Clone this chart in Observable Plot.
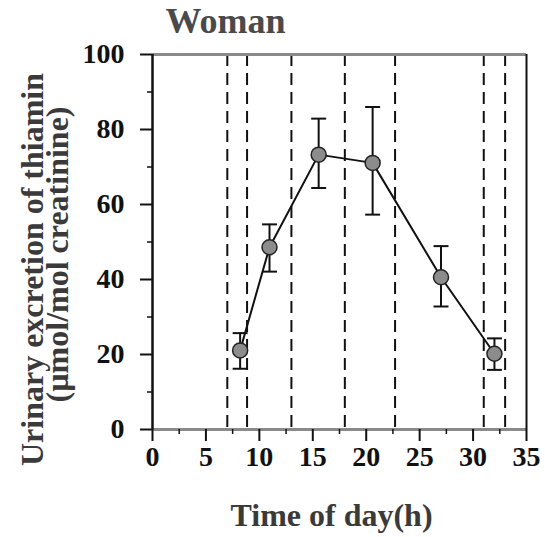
<!DOCTYPE html>
<html>
<head>
<meta charset="utf-8">
<script src="https://cdn.jsdelivr.net/npm/d3@7"></script>
<script src="https://cdn.jsdelivr.net/npm/@observablehq/plot@0.6"></script>
<style>
  html, body { margin: 0; padding: 0; background: #fff; }
</style>
</head>
<body>
<div id="chart"></div>
<script>
// Data
const times = [8.2, 10.95, 15.55, 20.6, 27.0, 32.0];
const means = [21.1, 48.6, 73.3, 71.1, 40.6, 20.2];
const lows  = [16.2, 42.1, 64.4, 57.3, 32.8, 15.9];
const highs = [25.7, 54.7, 82.9, 86.0, 48.9, 24.3];
const dashTimes = [7, 8.85, 13, 18, 22.7, 31, 33];
const xTicks = [0, 5, 10, 15, 20, 25, 30, 35];
const xMinorTicks = [2.5, 7.5, 12.5, 17.5, 22.5, 27.5, 32.5];
const yTicks = [0, 20, 40, 60, 80, 100];
const yMinorTicks = [10, 30, 50, 70, 90];
const titleText = "Woman";
const xLabel = "Time of day(h)";
const yLabel1 = "Urinary excretion of thiamin";
const yLabel2 = "(µmol/mol creatinine)";

const data = times.map((t, i) => ({t, m: means[i], lo: lows[i], hi: highs[i]}));
const capHalf = 0.7;
const font = "'Liberation Serif', 'Times New Roman', serif";

const chart = Plot.plot({
  width: 545,
  height: 537,
  marginLeft: 152,
  marginRight: 19,
  marginTop: 54,
  marginBottom: 108,
  style: {fontFamily: font, fontWeight: "bold", background: "#fff"},
  x: {domain: [0, 35], axis: null},
  y: {domain: [0, 100], axis: null},
  marks: [
    // dashed sampling lines
    Plot.ruleX(dashTimes, {stroke: "#111", strokeWidth: 2, strokeDasharray: "12,7"}),
    // frame
    Plot.ruleY([0], {stroke: "#8a8a8a", strokeWidth: 3}),
    Plot.ruleY([100], {stroke: "#8a8a8a", strokeWidth: 3}),
    Plot.ruleX([0], {stroke: "#111", strokeWidth: 2.5}),
    Plot.ruleX([35], {stroke: "#111", strokeWidth: 2}),
    // axes
    Plot.axisY(yTicks, {anchor: "left", tickSize: 12, tickPadding: 16, fontSize: 28, fontWeight: "bold", color: "#111", strokeWidth: 2, label: null}),
    Plot.axisY(yMinorTicks, {anchor: "left", tickSize: 5, tickFormat: () => "", color: "#111", strokeWidth: 1.5, label: null}),
    Plot.axisX(xTicks, {anchor: "bottom", tickSize: 12, tickPadding: 5, fontSize: 28, fontWeight: "bold", color: "#111", strokeWidth: 2, label: null}),
    Plot.axisX(xMinorTicks, {anchor: "bottom", tickSize: 5, tickFormat: () => "", color: "#111", strokeWidth: 1.5, label: null}),
    // error bars
    Plot.ruleX(data, {x: "t", y1: "lo", y2: "hi", stroke: "#111", strokeWidth: 2}),
    Plot.link(data, {x1: d => d.t - capHalf, x2: d => d.t + capHalf, y1: "hi", y2: "hi", stroke: "#111", strokeWidth: 2}),
    Plot.link(data, {x1: d => d.t - capHalf, x2: d => d.t + capHalf, y1: "lo", y2: "lo", stroke: "#111", strokeWidth: 2}),
    // line and points
    Plot.line(data, {x: "t", y: "m", stroke: "#111", strokeWidth: 2}),
    Plot.dot(data, {x: "t", y: "m", r: 7.5, fill: "#8c8c8c", stroke: "#222", strokeWidth: 1.5}),
    // title and labels
    Plot.text([titleText], {frameAnchor: "top", textAnchor: "middle", lineAnchor: "bottom", dx: -114, dy: -22, fontSize: 36, fontWeight: "bold", fill: "#4a4a4a"}),
    Plot.text([xLabel], {frameAnchor: "bottom", textAnchor: "middle", lineAnchor: "bottom", dx: -8, dy: 96, fontSize: 32, fontWeight: "bold", fill: "#3a3a3a"}),
    Plot.text([yLabel1], {frameAnchor: "left", textAnchor: "middle", lineAnchor: "bottom", rotate: -90, dx: -110, dy: 27.5, fontSize: 32, fontWeight: "bold", fill: "#3a3a3a"}),
    Plot.text([yLabel2], {frameAnchor: "left", textAnchor: "middle", lineAnchor: "bottom", rotate: -90, dx: -85, dy: 12.5, fontSize: 32, fontWeight: "bold", fill: "#3a3a3a"})
  ]
});
document.getElementById("chart").appendChild(chart);
</script>
</body>
</html>
